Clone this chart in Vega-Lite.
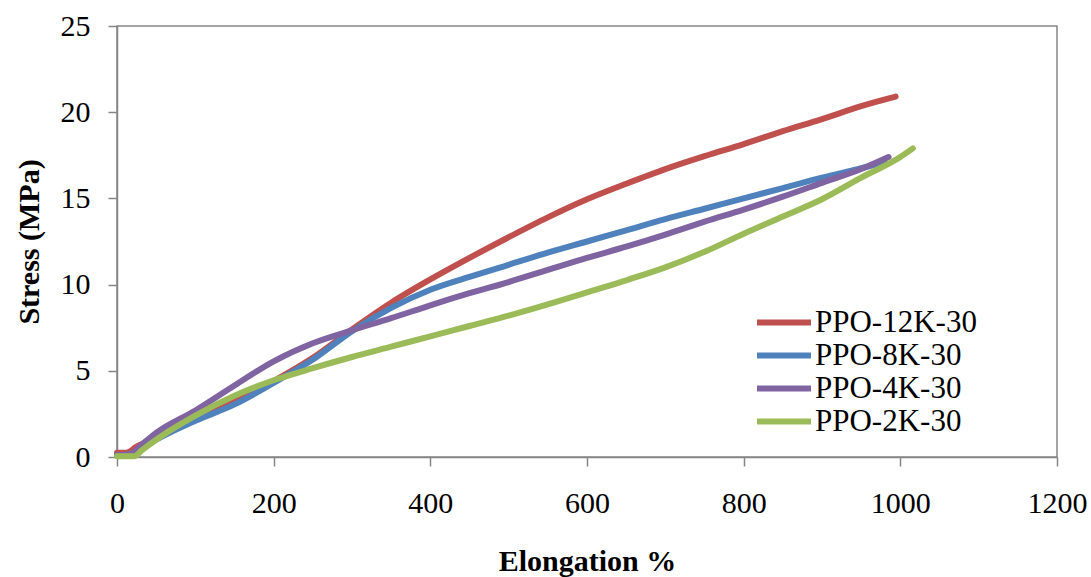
{
  "$schema": "https://vega.github.io/schema/vega-lite/v6.json",
  "width": 940,
  "height": 431,
  "autosize": "none",
  "padding": {"left": 117, "top": 26, "right": 34, "bottom": 120},
  "background": "white",
  "datasets": {
    "curves": [
      {"s": "PPO-12K-30", "x": 0, "y": 0.25},
      {"s": "PPO-12K-30", "x": 12, "y": 0.25},
      {"s": "PPO-12K-30", "x": 25, "y": 0.6},
      {"s": "PPO-12K-30", "x": 50, "y": 1.1},
      {"s": "PPO-12K-30", "x": 100, "y": 2.25},
      {"s": "PPO-12K-30", "x": 150, "y": 3.2},
      {"s": "PPO-12K-30", "x": 200, "y": 4.4},
      {"s": "PPO-12K-30", "x": 250, "y": 5.75},
      {"s": "PPO-12K-30", "x": 300, "y": 7.4},
      {"s": "PPO-12K-30", "x": 350, "y": 8.95},
      {"s": "PPO-12K-30", "x": 400, "y": 10.3},
      {"s": "PPO-12K-30", "x": 450, "y": 11.55},
      {"s": "PPO-12K-30", "x": 500, "y": 12.75},
      {"s": "PPO-12K-30", "x": 550, "y": 13.9},
      {"s": "PPO-12K-30", "x": 600, "y": 14.95},
      {"s": "PPO-12K-30", "x": 650, "y": 15.85},
      {"s": "PPO-12K-30", "x": 700, "y": 16.7},
      {"s": "PPO-12K-30", "x": 750, "y": 17.45},
      {"s": "PPO-12K-30", "x": 800, "y": 18.15},
      {"s": "PPO-12K-30", "x": 850, "y": 18.9},
      {"s": "PPO-12K-30", "x": 900, "y": 19.6},
      {"s": "PPO-12K-30", "x": 950, "y": 20.35},
      {"s": "PPO-12K-30", "x": 994, "y": 20.9},
      {"s": "PPO-8K-30", "x": 0, "y": 0.1},
      {"s": "PPO-8K-30", "x": 20, "y": 0.1},
      {"s": "PPO-8K-30", "x": 30, "y": 0.45},
      {"s": "PPO-8K-30", "x": 50, "y": 1.0},
      {"s": "PPO-8K-30", "x": 100, "y": 2.1},
      {"s": "PPO-8K-30", "x": 150, "y": 3.05},
      {"s": "PPO-8K-30", "x": 200, "y": 4.3},
      {"s": "PPO-8K-30", "x": 250, "y": 5.65},
      {"s": "PPO-8K-30", "x": 300, "y": 7.3},
      {"s": "PPO-8K-30", "x": 350, "y": 8.65},
      {"s": "PPO-8K-30", "x": 400, "y": 9.7},
      {"s": "PPO-8K-30", "x": 450, "y": 10.45},
      {"s": "PPO-8K-30", "x": 500, "y": 11.15},
      {"s": "PPO-8K-30", "x": 550, "y": 11.85},
      {"s": "PPO-8K-30", "x": 600, "y": 12.5},
      {"s": "PPO-8K-30", "x": 650, "y": 13.15},
      {"s": "PPO-8K-30", "x": 700, "y": 13.8},
      {"s": "PPO-8K-30", "x": 750, "y": 14.4},
      {"s": "PPO-8K-30", "x": 800, "y": 15.0},
      {"s": "PPO-8K-30", "x": 850, "y": 15.6},
      {"s": "PPO-8K-30", "x": 900, "y": 16.2},
      {"s": "PPO-8K-30", "x": 950, "y": 16.75},
      {"s": "PPO-8K-30", "x": 980, "y": 17.1},
      {"s": "PPO-4K-30", "x": 0, "y": 0.1},
      {"s": "PPO-4K-30", "x": 18, "y": 0.2},
      {"s": "PPO-4K-30", "x": 30, "y": 0.65},
      {"s": "PPO-4K-30", "x": 50, "y": 1.4},
      {"s": "PPO-4K-30", "x": 100, "y": 2.7},
      {"s": "PPO-4K-30", "x": 150, "y": 4.15},
      {"s": "PPO-4K-30", "x": 200, "y": 5.55},
      {"s": "PPO-4K-30", "x": 250, "y": 6.6},
      {"s": "PPO-4K-30", "x": 300, "y": 7.35},
      {"s": "PPO-4K-30", "x": 350, "y": 8.05},
      {"s": "PPO-4K-30", "x": 400, "y": 8.8},
      {"s": "PPO-4K-30", "x": 450, "y": 9.5},
      {"s": "PPO-4K-30", "x": 500, "y": 10.15},
      {"s": "PPO-4K-30", "x": 550, "y": 10.85},
      {"s": "PPO-4K-30", "x": 600, "y": 11.55},
      {"s": "PPO-4K-30", "x": 650, "y": 12.2},
      {"s": "PPO-4K-30", "x": 700, "y": 12.9},
      {"s": "PPO-4K-30", "x": 750, "y": 13.65},
      {"s": "PPO-4K-30", "x": 800, "y": 14.35},
      {"s": "PPO-4K-30", "x": 850, "y": 15.1},
      {"s": "PPO-4K-30", "x": 900, "y": 15.9},
      {"s": "PPO-4K-30", "x": 950, "y": 16.7},
      {"s": "PPO-4K-30", "x": 985, "y": 17.4},
      {"s": "PPO-2K-30", "x": 0, "y": 0.05},
      {"s": "PPO-2K-30", "x": 22, "y": 0.05},
      {"s": "PPO-2K-30", "x": 32, "y": 0.4},
      {"s": "PPO-2K-30", "x": 50, "y": 1.0},
      {"s": "PPO-2K-30", "x": 100, "y": 2.4},
      {"s": "PPO-2K-30", "x": 150, "y": 3.55},
      {"s": "PPO-2K-30", "x": 200, "y": 4.45},
      {"s": "PPO-2K-30", "x": 250, "y": 5.15},
      {"s": "PPO-2K-30", "x": 300, "y": 5.8},
      {"s": "PPO-2K-30", "x": 350, "y": 6.4},
      {"s": "PPO-2K-30", "x": 400, "y": 7.0},
      {"s": "PPO-2K-30", "x": 450, "y": 7.6},
      {"s": "PPO-2K-30", "x": 500, "y": 8.2},
      {"s": "PPO-2K-30", "x": 550, "y": 8.85},
      {"s": "PPO-2K-30", "x": 600, "y": 9.55},
      {"s": "PPO-2K-30", "x": 650, "y": 10.25},
      {"s": "PPO-2K-30", "x": 700, "y": 11.0},
      {"s": "PPO-2K-30", "x": 750, "y": 11.9},
      {"s": "PPO-2K-30", "x": 800, "y": 12.95},
      {"s": "PPO-2K-30", "x": 850, "y": 13.95},
      {"s": "PPO-2K-30", "x": 900, "y": 14.95},
      {"s": "PPO-2K-30", "x": 950, "y": 16.2},
      {"s": "PPO-2K-30", "x": 1000, "y": 17.4},
      {"s": "PPO-2K-30", "x": 1016, "y": 17.9}
    ]
  },
  "data": {"name": "curves"},
  "mark": {"type": "line", "strokeWidth": 6, "strokeCap": "round", "strokeJoin": "round", "interpolate": "monotone"},
  "encoding": {
    "x": {
      "field": "x", "type": "quantitative",
      "scale": {"domain": [0, 1200], "nice": false, "zero": false},
      "axis": {"values": [0, 200, 400, 600, 800, 1000, 1200], "format": "d", "title": "Elongation %", "titleY": 113, "titleBaseline": "alphabetic", "labelPadding": 22}
    },
    "y": {
      "field": "y", "type": "quantitative",
      "scale": {"domain": [0, 25], "nice": false},
      "axis": {"values": [0, 5, 10, 15, 20, 25], "title": "Stress (MPa)", "titleX": -88, "titleBaseline": "middle", "titleAngle": -90, "labelPadding": 18}
    },
    "color": {
      "field": "s", "type": "nominal",
      "scale": {"domain": ["PPO-12K-30", "PPO-8K-30", "PPO-4K-30", "PPO-2K-30"], "range": ["#C0504D", "#4F81BD", "#8064A2", "#9BBB59"]},
      "legend": {"title": null, "orient": "none", "legendX": 637, "legendY": 280, "symbolType": "stroke", "symbolSize": 2916, "symbolStrokeWidth": 6, "labelOffset": 1, "rowPadding": 0, "clipHeight": 33, "padding": 0, "labelFontSize": 31, "labelFont": "Liberation Serif", "labelColor": "#000000", "labelLimit": 400}
    }
  },
  "config": {
    "view": {"stroke": "#868686", "strokeWidth": 1.5},
    "axis": {
      "grid": false, "domainColor": "#868686", "domainWidth": 1.5, "tickColor": "#868686", "tickWidth": 1.5, "tickSize": 9,
      "labelFont": "Liberation Serif", "labelFontSize": 30, "labelColor": "#000000", "labelFlush": false, "labelOverlap": false,
      "titleFont": "Liberation Serif", "titleFontSize": 30, "titleFontWeight": "bold", "titleColor": "#000000"
    }
  }
}
